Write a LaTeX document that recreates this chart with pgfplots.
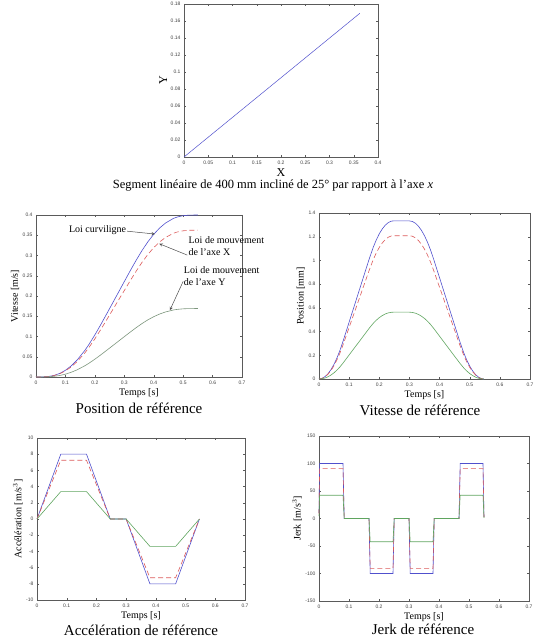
\documentclass[border=0pt]{standalone}
\usepackage{pgfplots}
\pgfplotsset{compat=1.18}
\usepackage{pgfplotstable}
\usepackage{fontspec}
\setmainfont{Liberation Serif}
\newfontfamily\tickfont{Liberation Sans}

\definecolor{curv}{RGB}{80,80,205}
\definecolor{axx}{RGB}{220,90,90}
\definecolor{axy}{RGB}{95,165,95}
\definecolor{axyg}{RGB}{125,150,125}
\definecolor{frame}{RGB}{90,90,90}

% Position along the path (s) and its projections on X and Y
\pgfplotstableread{
t s x y
0 0 0 0
0.02 0.000133 0.000121 0.000056
0.04 0.001067 0.000967 0.000451
0.06 0.0036 0.003263 0.001521
0.08 0.008533 0.007734 0.003606
0.10 0.016533 0.014984 0.006987
0.12 0.027733 0.025135 0.011721
0.14 0.042133 0.038186 0.017806
0.16667 0.066311 0.060098 0.028024
0.18 0.080493 0.072952 0.034018
0.20 0.103916 0.094180 0.043917
0.22 0.129205 0.117100 0.054605
0.24667 0.164444 0.149037 0.069497
0.27 0.195556 0.177234 0.082645
0.30 0.235556 0.213487 0.099551
0.32 0.26209 0.237535 0.110765
0.34 0.287822 0.260856 0.121640
0.36 0.311956 0.282729 0.131840
0.38 0.333689 0.302426 0.141025
0.40 0.352356 0.319344 0.148914
0.42 0.367822 0.333361 0.155450
0.44 0.380089 0.344478 0.160634
0.46667 0.391467 0.354791 0.165443
0.48 0.395063 0.358050 0.166963
0.50 0.398307 0.360990 0.168334
0.52 0.399684 0.362238 0.168916
0.54667 0.4 0.362524 0.169048
0.55 0.4 0.362524 0.169048
}\postab

% Velocity
\pgfplotstableread{
t v x y
0 0 0 0
0.01 0.005 0.004532 0.002113
0.02 0.02 0.018126 0.008452
0.03 0.045 0.040784 0.019018
0.04 0.08 0.072505 0.03381
0.05 0.125 0.113289 0.052828
0.06 0.18 0.163136 0.076072
0.07 0.245 0.222046 0.103542
0.08 0.32 0.290019 0.135238
0.16667 1.01333 0.918391 0.428254
0.18 1.11111 1.007011 0.469578
0.19 1.17278 1.062902 0.49564
0.20 1.22444 1.109722 0.517473
0.21 1.26611 1.147488 0.535083
0.22 1.29778 1.176191 0.548468
0.23 1.31944 1.195822 0.557622
0.24 1.33111 1.206399 0.562554
0.24667 1.33333 1.208413 0.563493
0.30 1.33333 1.208413 0.563493
0.31 1.32833 1.203881 0.56138
0.32 1.31333 1.190287 0.555041
0.33 1.28833 1.167629 0.544475
0.34 1.25333 1.135908 0.529683
0.35 1.20833 1.095124 0.510665
0.36 1.15333 1.045277 0.487421
0.37 1.08833 0.986367 0.459951
0.38 1.01333 0.918391 0.428254
0.46667 0.32 0.290019 0.135238
0.48 0.222222 0.201402 0.093916
0.49 0.160556 0.145514 0.067854
0.50 0.108889 0.098687 0.046018
0.51 0.067222 0.060924 0.028409
0.52 0.035556 0.032225 0.015027
0.53 0.013889 0.012588 0.00587
0.54 0.002222 0.002014 0.000939
0.54667 0 0 0
}\veltab

% Acceleration
\pgfplotstableread{
t a x y
0 0 0 0
0.08 8 7.25048 3.38096
0.16667 8 7.25048 3.38096
0.24667 0 0 0
0.30 0 0 0
0.38 -8 -7.25048 -3.38096
0.46667 -8 -7.25048 -3.38096
0.54667 0 0 0
}\acctab

% Jerk
\pgfplotstableread{
t j x y
0 10 9.0631 4.2262
0.002 100 90.631 42.262
0.08 100 90.631 42.262
0.084 0 0 0
0.16667 0 0 0
0.1707 -100 -90.631 -42.262
0.24667 -100 -90.631 -42.262
0.2507 0 0 0
0.30 0 0 0
0.304 -100 -90.631 -42.262
0.38 -100 -90.631 -42.262
0.384 0 0 0
0.46667 0 0 0
0.4707 100 90.631 42.262
0.54667 100 90.631 42.262
0.55 3 2.7 1.3
}\jerktab

\pgfplotsset{
  mat/.style={
    scale only axis,
    anchor=south west,
    axis line style={frame, line width=0.5pt},
    tick style={frame, line width=0.4pt},
    tick align=inside,
    major tick length=2pt,
    ticklabel style={font=\tickfont\fontsize{5}{6}\selectfont, text=black!75},
    /pgf/number format/assume math mode=true,
    /pgf/number format/fixed,
    /pgf/number format/precision=2,
    xtick pos=both, ytick pos=both,
    xticklabel pos=lower, yticklabel pos=left,
    label style={font=\fontsize{10}{12}\selectfont},
    xlabel style={inner sep=0pt, yshift=-1pt},
    ylabel style={inner sep=0pt},
    every axis plot/.append style={line width=0.6pt},
    clip=false,
  },
  timeaxis/.style={mat, xmin=0, xmax=0.7, xtick={0,0.1,...,0.7}, xlabel={Temps [s]}},
}

\begin{document}
\begin{tikzpicture}[x=1pt,y=1pt]
\useasboundingbox (0,0) rectangle (546,638);

% Straight segment in the XY plane
\begin{axis}[mat, at={(184pt,481pt)}, width=194pt, height=153pt,
  xmin=0, xmax=0.4, ymin=0, ymax=0.18,
  xtick={0,0.05,...,0.4}, ytick={0,0.02,...,0.18},
  xlabel={X}, ylabel={Y},
  label style={font=\fontsize{12}{14}\selectfont}]
\addplot[curv, line width=0.5pt] table[x=x, y=y] {\postab};
\end{axis}
\node[font=\fontsize{12.5}{14}\selectfont] at (273,452) {Segment linéaire de 400 mm incliné de 25° par rapport à l'axe \textit{x}};

% Position
\begin{axis}[timeaxis, at={(36pt,261pt)}, width=206pt, height=162pt,
  ymin=0, ymax=0.4, ytick={0,0.05,...,0.4},
  ylabel={Vitesse [m/s]}]
\addplot[curv] table[x=t, y=s] {\postab};
\addplot[axx, dashed, dash pattern=on 5pt off 3pt] table[x=t, y=x] {\postab};
\addplot[axyg] table[x=t, y=y] {\postab};
\draw[-stealth, black!70, line width=0.5pt] (axis cs:0.31,0.36) -- (axis cs:0.404,0.353);
\node[anchor=east, font=\fontsize{10}{12}\selectfont, inner sep=1pt] at (axis cs:0.31,0.362) {Loi curviligne};
\draw[-stealth, black!70, line width=0.5pt] (axis cs:0.514,0.301) -- (axis cs:0.419,0.329);
\node[anchor=north west, align=left, font=\fontsize{10}{12}\selectfont, inner sep=0pt] at (axis cs:0.518,0.347) {Loi de mouvement\\de l'axe X};
\draw[-stealth, black!70, line width=0.5pt] (axis cs:0.5,0.236) -- (axis cs:0.455,0.165);
\node[anchor=north west, align=left, font=\fontsize{10}{11.5}\selectfont, inner sep=0pt] at (axis cs:0.502,0.272) {Loi de mouvement\\de l'axe Y};
\end{axis}
\node[font=\fontsize{15}{17}\selectfont] at (139,230) {Position de référence};

% Velocity
\begin{axis}[timeaxis, at={(319pt,259pt)}, width=211pt, height=166pt,
  ymin=0, ymax=1.4, ytick={0,0.2,...,1.4},
  ylabel={Position [mm]}]
\addplot[curv] table[x=t, y=v] {\veltab};
\addplot[axx, dashed, dash pattern=on 5pt off 3pt] table[x=t, y=x] {\veltab};
\addplot[axy] table[x=t, y=y] {\veltab};
\end{axis}
\node[font=\fontsize{15}{17}\selectfont] at (420,228) {Vitesse de référence};

% Acceleration
\begin{axis}[timeaxis, at={(37pt,38pt)}, width=208pt, height=162pt,
  ymin=-10, ymax=10, ytick={-10,-8,...,10},
  ylabel={Accélération [m/s$^3$]}]
\addplot[curv] table[x=t, y=a] {\acctab};
\addplot[axx, dashed, dash pattern=on 5pt off 3pt] table[x=t, y=x] {\acctab};
\addplot[axy] table[x=t, y=y] {\acctab};
\end{axis}
\node[font=\fontsize{15}{17}\selectfont] at (141,8) {Accélération de référence};

% Jerk
\begin{axis}[timeaxis, at={(319pt,37pt)}, width=210pt, height=165pt,
  ymin=-150, ymax=150, ytick={-150,-100,...,150},
  ylabel={Jerk [m/s$^3$]}]
\addplot[curv] table[x=t, y=j] {\jerktab};
\addplot[axx, dashed, dash pattern=on 5pt off 3pt] table[x=t, y=x] {\jerktab};
\addplot[axy] table[x=t, y=y] {\jerktab};
\end{axis}
\node[font=\fontsize{15}{17}\selectfont] at (423,9) {Jerk de référence};
\end{tikzpicture}
\end{document}
